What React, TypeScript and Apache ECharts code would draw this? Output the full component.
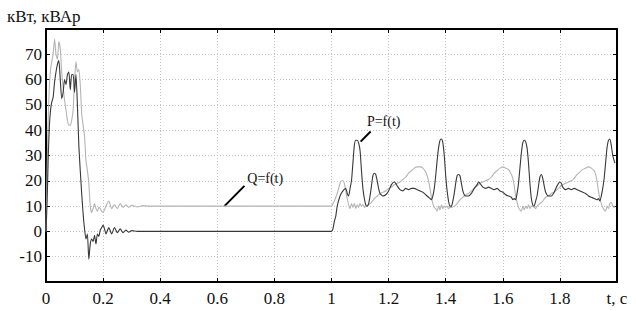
import React, { useEffect, useRef } from 'react';
import * as echarts from 'echarts';

// Active power P = f(t), kW — start-up transient
const pStart: [number, number][] = [
  [0, 0], [0.004, 12], [0.008, 30], [0.012, 42], [0.016, 48], [0.02, 51], [0.025, 53], [0.03, 59],
  [0.035, 63], [0.04, 66], [0.045, 67.5], [0.05, 60], [0.055, 52.5], [0.06, 55], [0.065, 60], [0.07, 58],
  [0.075, 62], [0.08, 63], [0.085, 56], [0.09, 62], [0.095, 62], [0.1, 55], [0.105, 62], [0.11, 50],
  [0.115, 34], [0.12, 24], [0.125, 15], [0.13, 7], [0.135, 1], [0.14, -3], [0.145, -1], [0.15, -11],
  [0.155, -5], [0.16, -3], [0.165, -4], [0.17, -1.5], [0.175, -5], [0.18, -1], [0.185, -2], [0.19, 0.5],
  [0.195, 1.5], [0.2, 2.5], [0.205, 1], [0.21, -1], [0.22, 1.5], [0.23, -1], [0.24, 1.5], [0.25, -0.5],
  [0.26, 1], [0.27, -0.5], [0.28, 0.5], [0.29, -0.3], [0.3, 0.3], [0.32, 0], [1.0, 0],
];

// Active power P = f(t), kW — load applied at t = 1 s
const pLoad: [number, number][] = [
  [1.005, 1], [1.01, 4], [1.015, 6], [1.02, 10], [1.03, 14], [1.04, 16], [1.05, 17], [1.055, 15],
  [1.06, 14], [1.065, 17], [1.07, 20], [1.075, 27], [1.08, 34], [1.085, 36], [1.09, 36], [1.095, 35],
  [1.1, 32], [1.105, 24], [1.11, 17], [1.115, 13], [1.12, 10.5], [1.125, 10], [1.13, 11], [1.135, 14],
  [1.14, 18], [1.145, 22], [1.15, 23], [1.155, 22.5], [1.16, 20], [1.165, 17], [1.17, 15], [1.18, 14],
  [1.19, 14.5], [1.2, 16], [1.21, 18.5], [1.22, 19.5], [1.225, 19], [1.23, 18], [1.24, 16.5], [1.25, 16],
  [1.26, 17], [1.27, 16.5], [1.28, 17], [1.29, 17], [1.3, 16.5], [1.31, 16], [1.32, 15.5], [1.33, 14.5],
  [1.34, 13.5], [1.345, 13], [1.35, 12.5], [1.355, 14], [1.36, 17], [1.365, 22], [1.37, 28], [1.375, 33],
  [1.38, 36], [1.385, 36.5], [1.39, 35], [1.395, 30], [1.4, 22], [1.405, 16], [1.41, 12], [1.415, 10],
  [1.42, 10], [1.425, 12], [1.43, 15], [1.435, 19], [1.44, 22], [1.445, 22.5], [1.45, 22], [1.455, 19],
  [1.46, 16], [1.465, 14.5], [1.47, 14], [1.48, 14], [1.49, 15], [1.5, 17], [1.51, 18.5], [1.515, 19.5],
  [1.52, 19], [1.53, 17.5], [1.54, 17], [1.55, 17.5], [1.56, 17], [1.57, 16.5], [1.58, 17], [1.59, 16],
  [1.6, 15.5], [1.61, 14.5], [1.62, 14], [1.63, 13.5], [1.635, 12.5], [1.64, 13], [1.645, 12.5], [1.65, 15],
  [1.655, 19], [1.66, 25], [1.665, 31], [1.67, 35], [1.675, 36], [1.68, 35.5], [1.685, 33], [1.69, 27],
  [1.695, 19], [1.7, 13], [1.705, 10.5], [1.71, 10], [1.715, 12], [1.72, 14], [1.725, 18], [1.73, 21.5],
  [1.735, 22.5], [1.74, 21], [1.745, 18], [1.75, 15.5], [1.76, 14], [1.77, 14], [1.78, 15.5], [1.79, 18],
  [1.8, 19.5], [1.805, 19], [1.81, 17.5], [1.82, 16.5], [1.83, 17], [1.84, 16.5], [1.85, 17], [1.86, 16.5],
  [1.87, 16], [1.88, 15.5], [1.89, 15], [1.9, 14], [1.91, 13.5], [1.92, 13], [1.93, 12.5], [1.935, 13],
  [1.94, 12], [1.945, 14], [1.95, 17], [1.955, 21], [1.96, 27], [1.965, 33], [1.97, 36], [1.975, 36.5],
  [1.98, 34], [1.985, 30], [1.99, 28], [1.993, 27],
];

// Reactive power Q = f(t), kVAr — start-up transient
const qStart: [number, number][] = [
  [0, 0], [0.004, 25], [0.008, 45], [0.012, 58], [0.016, 64], [0.02, 67], [0.025, 70], [0.03, 76],
  [0.035, 70], [0.04, 68], [0.045, 75], [0.05, 72], [0.055, 63], [0.06, 57], [0.065, 52], [0.07, 48],
  [0.075, 44], [0.08, 42], [0.085, 42], [0.09, 44], [0.095, 48], [0.1, 60], [0.105, 67], [0.11, 63],
  [0.115, 64], [0.12, 58], [0.125, 46.5], [0.13, 42], [0.135, 37.5], [0.14, 28], [0.145, 24], [0.15, 19],
  [0.155, 10], [0.16, 7.5], [0.165, 9], [0.17, 11], [0.175, 9], [0.18, 8], [0.185, 9.5], [0.19, 9],
  [0.195, 8], [0.2, 7.5], [0.21, 10], [0.22, 12], [0.23, 9], [0.24, 10.5], [0.25, 9], [0.26, 11],
  [0.27, 9.5], [0.28, 10.5], [0.29, 9.5], [0.3, 10.3], [0.32, 9.7], [0.34, 10.2], [0.36, 10], [1.0, 10],
];

// Reactive power Q = f(t), kVAr — load applied at t = 1 s
const qLoad: [number, number][] = [
  [1.005, 11], [1.01, 12], [1.015, 13.5], [1.02, 15], [1.025, 17], [1.03, 19], [1.035, 20], [1.04, 20],
  [1.045, 19], [1.05, 16], [1.055, 13], [1.06, 10.5], [1.065, 9], [1.07, 11], [1.075, 9.5], [1.08, 11],
  [1.085, 9], [1.09, 10.5], [1.095, 9.5], [1.1, 11], [1.105, 10], [1.11, 10.5], [1.115, 9.5], [1.12, 10],
  [1.13, 10.5], [1.14, 11.5], [1.15, 13], [1.16, 14], [1.17, 15], [1.18, 15.5], [1.19, 16], [1.2, 17],
  [1.21, 17.5], [1.22, 18.5], [1.23, 19], [1.24, 19.5], [1.25, 20.5], [1.26, 21.5], [1.27, 23], [1.28, 24],
  [1.29, 25], [1.3, 25.5], [1.31, 25.5], [1.32, 25], [1.33, 23.5], [1.335, 22], [1.34, 20], [1.345, 17],
  [1.35, 13.5], [1.355, 11], [1.36, 9.5], [1.365, 9], [1.37, 8], [1.375, 10], [1.38, 8.5], [1.385, 10.5],
  [1.39, 9], [1.395, 10], [1.4, 9.5], [1.405, 10], [1.41, 9], [1.415, 9.5], [1.42, 9.5], [1.43, 10],
  [1.44, 11], [1.45, 12.5], [1.46, 13.5], [1.47, 14.5], [1.48, 15], [1.49, 16], [1.5, 17], [1.51, 18],
  [1.52, 19], [1.53, 19.5], [1.54, 20], [1.55, 20.5], [1.56, 21.5], [1.57, 23], [1.58, 24], [1.59, 25],
  [1.6, 25.5], [1.61, 25], [1.62, 24.5], [1.63, 22.5], [1.635, 21], [1.64, 18], [1.645, 14], [1.65, 11.5],
  [1.655, 9.5], [1.66, 8.5], [1.665, 8], [1.67, 10], [1.675, 8.5], [1.68, 10], [1.685, 9], [1.69, 10.5],
  [1.695, 9], [1.7, 10], [1.71, 9.5], [1.715, 9], [1.72, 10], [1.73, 11], [1.74, 12], [1.75, 13.5],
  [1.76, 14], [1.77, 15], [1.78, 15.5], [1.79, 16.5], [1.8, 17.5], [1.81, 18.5], [1.82, 19], [1.83, 19.5],
  [1.84, 20], [1.85, 21], [1.86, 22.5], [1.87, 23.5], [1.88, 24.5], [1.89, 25], [1.9, 25.5], [1.91, 25],
  [1.92, 24], [1.925, 22.5], [1.93, 20], [1.935, 16], [1.94, 13], [1.945, 11], [1.95, 9.5], [1.955, 8.5],
  [1.96, 8], [1.965, 10], [1.97, 9], [1.975, 11], [1.98, 11.5], [1.985, 10], [1.99, 9.5], [1.993, 10],
];

const yAxisTitle = 'кВт, кВАр';
const xAxisEndLabel = 't, c';
const pLabel = 'P=f(t)';
const qLabel = 'Q=f(t)';
// annotation anchors in data coordinates: [leader start, leader end, text anchor]
const qAnnot: [number, number][] = [[0.625, 10], [0.695, 18], [0.705, 21]];
const pAnnot: [number, number][] = [[1.102, 35.5], [1.137, 39.5], [1.124, 43.5]];

const FONT = 'Liberation Serif';

export default function App() {
  const ref = useRef<HTMLDivElement>(null);
  useEffect(() => {
    if (!ref.current) return;
    const chart = echarts.init(ref.current, undefined, { renderer: 'svg' });
    const gridLine = { show: true, lineStyle: { color: '#c4c4c4', type: [1, 2] as any, width: 1 } };
    const axisLine = { show: true, onZero: false, lineStyle: { color: '#000', width: 2 } };
    const inTick = { show: true, inside: true, length: 4, lineStyle: { color: '#000', width: 1 } };
    chart.setOption({
      animation: false,
      backgroundColor: '#fff',
      title: {
        text: yAxisTitle,
        left: 2,
        top: 3,
        textStyle: { fontFamily: FONT, fontSize: 17, fontWeight: 'normal', color: '#111' },
      },
      grid: { left: 46, right: 19, top: 29, bottom: 28, show: false },
      xAxis: [
        {
          type: 'value', min: 0, max: 2, interval: 0.2,
          axisLine, axisTick: inTick, splitLine: gridLine,
          axisLabel: {
            fontFamily: FONT, fontSize: 17, color: '#111', margin: 8,
            formatter: (v: number) => (Math.abs(v - 2) < 1e-9 ? xAxisEndLabel : String(Math.round(v * 10) / 10)),
          },
        },
        {
          type: 'value', min: 0, max: 2, interval: 0.2, position: 'top',
          axisLine, axisTick: inTick, splitLine: { show: false }, axisLabel: { show: false },
        },
      ],
      yAxis: [
        {
          type: 'value', min: -20, max: 80, interval: 10,
          axisLine, axisTick: inTick, splitLine: gridLine,
          axisLabel: {
            fontFamily: FONT, fontSize: 17, color: '#111', margin: 4,
            formatter: (v: number) => (v <= -20 || v >= 80 ? '' : String(v)),
          },
        },
        {
          type: 'value', min: -20, max: 80, interval: 10, position: 'right',
          axisLine, axisTick: inTick, splitLine: { show: false }, axisLabel: { show: false },
        },
      ],
      series: [
        {
          name: 'Q', type: 'line', showSymbol: false, symbol: 'none',
          data: [...qStart, ...qLoad],
          lineStyle: { color: '#b4b4b4', width: 1.1 },
          smooth: 0.2,
        },
        {
          name: 'P', type: 'line', showSymbol: false, symbol: 'none',
          data: [...pStart, ...pLoad],
          lineStyle: { color: '#383838', width: 1.1 },
          smooth: 0.2,
        },
      ],
    });
    const px = (d: [number, number]) => chart.convertToPixel({ gridIndex: 0 }, d) as number[];
    const annot = (a: [number, number][], label: string) => {
      const s = px(a[0]), e = px(a[1]), t = px(a[2]);
      return [
        { type: 'line', shape: { x1: s[0], y1: s[1], x2: e[0], y2: e[1] }, style: { stroke: '#000', lineWidth: 2 } },
        {
          type: 'text', x: t[0], y: t[1],
          style: { text: label, fill: '#111', fontFamily: FONT, fontSize: 14, textAlign: 'left', textVerticalAlign: 'middle' },
        },
      ];
    };
    chart.setOption({ graphic: [...annot(qAnnot, qLabel), ...annot(pAnnot, pLabel)] });
    return () => chart.dispose();
  }, []);
  return <div ref={ref} style={{ position: 'fixed', left: 0, top: 0, width: 636, height: 310 }} />;
}
